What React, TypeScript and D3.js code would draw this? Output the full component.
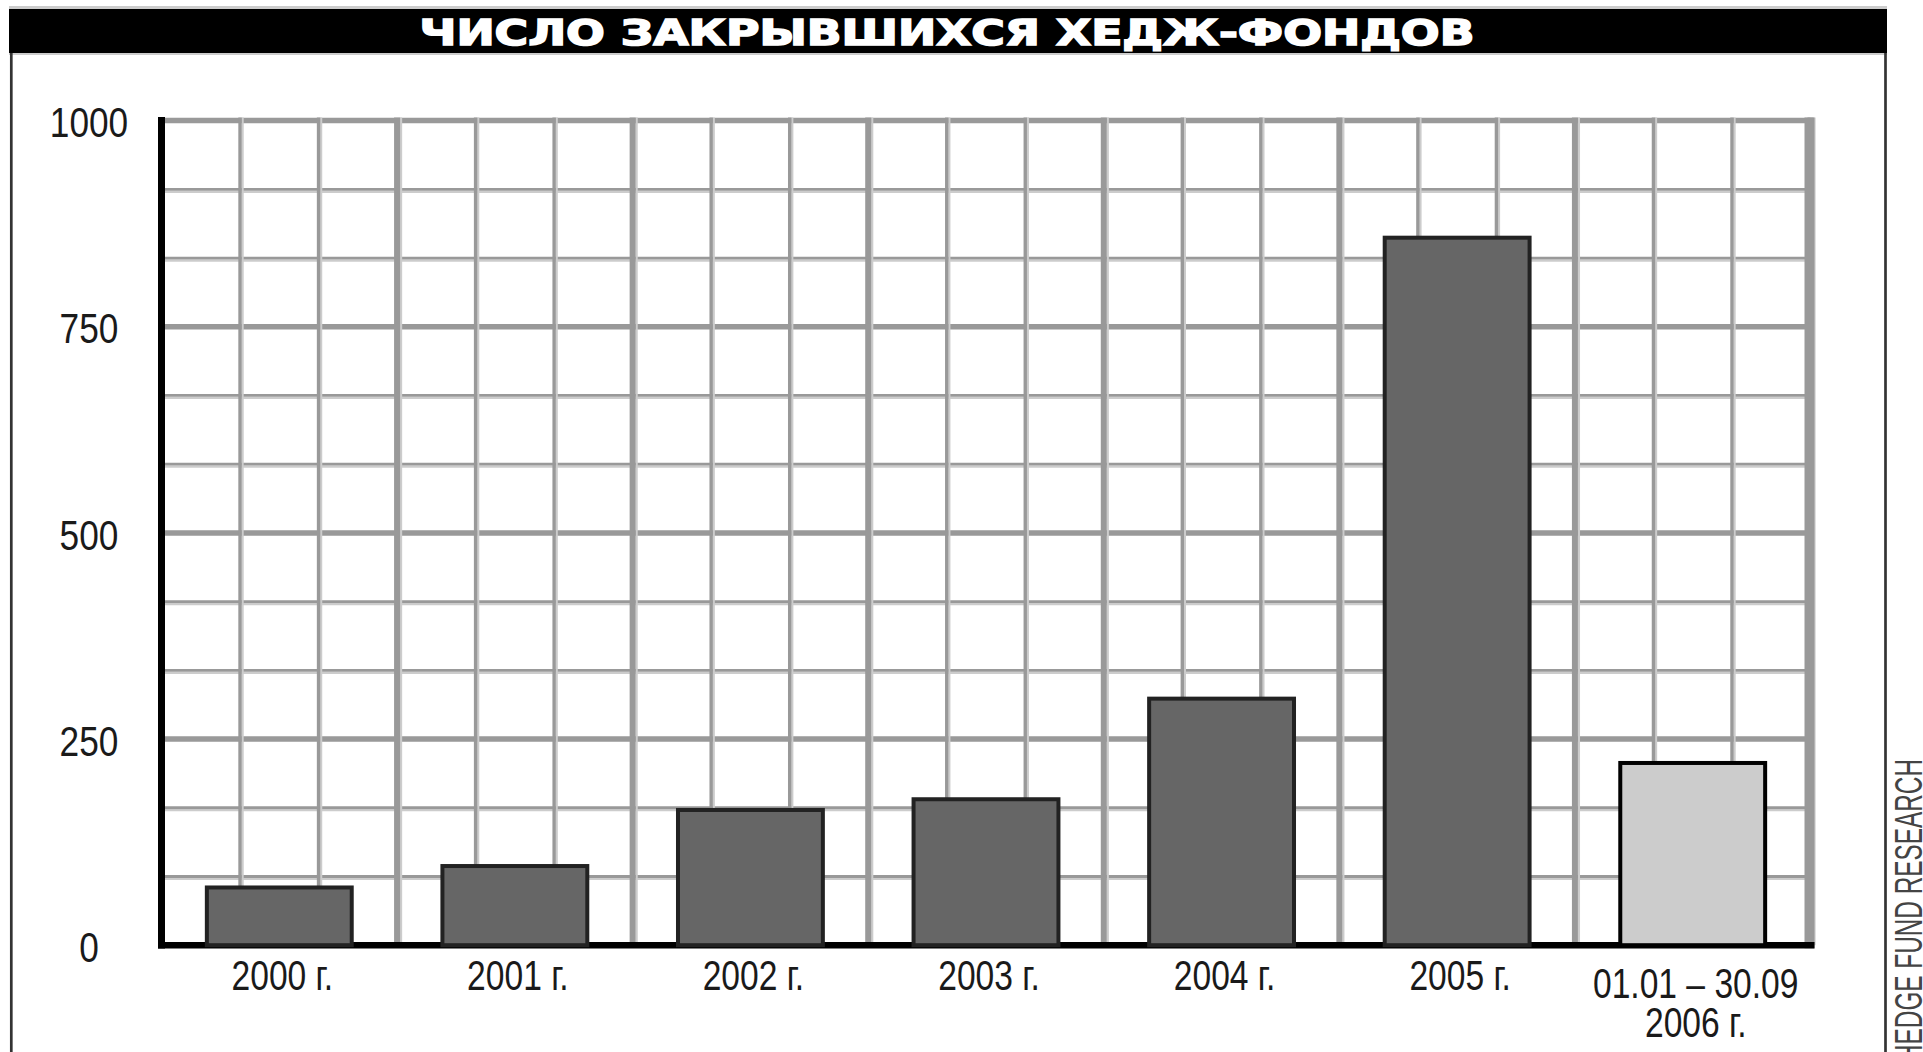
import React from "react";
import * as d3 from "d3";

// Число закрывшихся хедж-фондов, по годам
const years = ["2000", "2001", "2002", "2003", "2004", "2005", "2006"];
const closedFunds = [70, 96, 164, 177, 299, 858, 221];
const xLabels = [
  ["2000 г."],
  ["2001 г."],
  ["2002 г."],
  ["2003 г."],
  ["2004 г."],
  ["2005 г."],
  ["01.01 – 30.09", "2006 г."],
];
const yTicks = [0, 250, 500, 750, 1000];
const partialYear = "2006";

const TITLE = "ЧИСЛО ЗАКРЫВШИХСЯ ХЕДЖ-ФОНДОВ";
const SOURCE = "HEDGE FUND RESEARCH";

const W = 1923;
const H = 1052;
const LEFT = 161.5;
const RIGHT = 1810.5;
const TOP = 120.6;
const BOTTOM = 945.2;

const GRID_DARK = "#999999";
const GRID_LIGHT = "#cccccc";
const BAR_FILL = "#666666";
const BAR_FILL_PARTIAL = "#cccccc";
const FONT = "'Liberation Sans', Arial, sans-serif";

const App = () => {
  const x = d3
    .scaleBand<string>()
    .domain(years)
    .range([LEFT, RIGHT])
    .paddingInner(0.385)
    .paddingOuter(0.1925);

  const y = d3.scaleLinear().domain([0, 1000]).range([BOTTOM, TOP]);

  const step = x.step();
  const xStart = x.range()[0];

  // сетка: 3 клетки на год по горизонтали, 3 клетки на 250 по вертикали
  const hLines = d3.range(0, 13).map((i) => ({ v: (i * 1000) / 12, major: i % 3 === 0 }));
  const vLines = d3.range(1, 22).map((k) => ({ px: xStart + (k * step) / 3, major: k % 3 === 0 }));

  return (
    <svg
      width={W}
      height={H}
      style={{ position: "absolute", left: 0, top: 0, background: "#fff" }}
    >
      <rect x={0} y={0} width={W} height={H} fill="#fff" />

      {/* Title bar */}
      <line x1={9} x2={1887} y1={7.5} y2={7.5} stroke="#cccccc" strokeWidth={3} />
      <rect x={9} y={9} width={1878} height={44} fill="#000" />
      <line x1={9} x2={1887} y1={54} y2={54} stroke="#cccccc" strokeWidth={2} />
      <text
        x={947}
        y={45}
        textAnchor="middle"
        fill="#fff"
        stroke="#fff"
        strokeWidth={1.6}
        fontFamily="'DejaVu Sans', sans-serif"
        fontWeight={700}
        fontSize={36}
        textLength={1055}
        lengthAdjust="spacingAndGlyphs"
      >
        {TITLE}
      </text>

      {/* Frame */}
      <line x1={11.3} x2={11.3} y1={53} y2={H} stroke="#333" strokeWidth={2.7} />
      <line x1={1885.5} x2={1885.5} y1={53} y2={H} stroke="#333" strokeWidth={2.7} />

      {/* Grid */}
      <g>
        {hLines.map((l, i) => {
          const py = y(l.v);
          return (
            <g key={`h${i}`}>
              {!l.major && (
                <line x1={LEFT} x2={RIGHT} y1={py + 2.5} y2={py + 2.5} stroke={GRID_LIGHT} strokeWidth={2.2} />
              )}
              <line
                x1={LEFT}
                x2={RIGHT}
                y1={py}
                y2={py}
                stroke={GRID_DARK}
                strokeWidth={l.major ? 5.5 : 2.8}
              />
            </g>
          );
        })}
        {vLines.map((l, i) => (
          <g key={`v${i}`}>
            <line
              x1={l.px + (l.major ? 4 : 2.6)}
              x2={l.px + (l.major ? 4 : 2.6)}
              y1={TOP - 3}
              y2={BOTTOM}
              stroke={GRID_LIGHT}
              strokeWidth={2.2}
            />
            <line
              x1={l.px}
              x2={l.px}
              y1={TOP - 3}
              y2={BOTTOM}
              stroke={GRID_DARK}
              strokeWidth={l.major ? 6 : 3.4}
            />
          </g>
        ))}
        <line x1={RIGHT - 1} x2={RIGHT - 1} y1={TOP - 3} y2={BOTTOM + 3} stroke={GRID_DARK} strokeWidth={10} />
      </g>

      {/* Axes */}
      <line x1={LEFT} x2={LEFT} y1={117} y2={BOTTOM + 3.3} stroke="#000" strokeWidth={7} />
      <line x1={LEFT - 3.5} x2={RIGHT + 4} y1={BOTTOM} y2={BOTTOM} stroke="#000" strokeWidth={6.6} />

      {/* Bars */}
      <g>
        {years.map((yr, i) => (
          <rect
            key={yr}
            x={x(yr)}
            y={y(closedFunds[i])}
            width={x.bandwidth()}
            height={y(0) - y(closedFunds[i])}
            fill={yr === partialYear ? BAR_FILL_PARTIAL : BAR_FILL}
            stroke={yr === partialYear ? "#000" : "#222"}
            strokeWidth={4}
          />
        ))}
      </g>

      {/* Y tick labels */}
      <g fontFamily={FONT} fontSize={42} fill="#1a1a1a">
        {yTicks.map((t) => (
          <g key={t} transform={`translate(89,${y(t) + 2}) scale(0.84,1)`}>
            <text textAnchor="middle" dominantBaseline="central">
              {t}
            </text>
          </g>
        ))}
      </g>

      {/* X labels */}
      <g fontFamily={FONT} fontSize={42} fill="#1a1a1a">
        {years.map((yr, i) => {
          const cx = (x(yr) as number) + x.bandwidth() / 2 + 3;
          const lines = xLabels[i];
          return (
            <g
              key={yr}
              transform={`translate(${cx},${lines.length > 1 ? 998 : 990}) scale(0.8,1)`}
            >
              <text textAnchor="middle">
                {lines.map((ln, j) => (
                  <tspan key={j} x={0} dy={j === 0 ? 0 : 39}>
                    {ln}
                  </tspan>
                ))}
              </text>
            </g>
          );
        })}
      </g>

      {/* Source, rotated */}
      <g transform="translate(1922,759) rotate(-90)">
        <text
          textAnchor="end"
          fontFamily={FONT}
          fontSize={38}
          fill="#444"
          textLength={303}
          lengthAdjust="spacingAndGlyphs"
        >
          {SOURCE}
        </text>
      </g>
    </svg>
  );
};

export default App;
